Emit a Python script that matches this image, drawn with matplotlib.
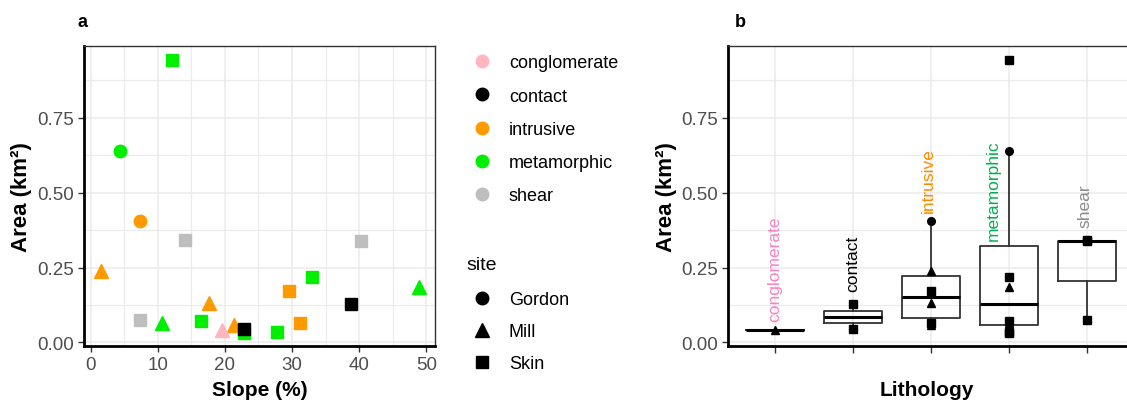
import matplotlib.pyplot as plt
from matplotlib.lines import Line2D
from matplotlib.ticker import MultipleLocator
import numpy as np

plt.rcParams['font.family'] = ['Liberation Sans', 'DejaVu Sans']

# data (one row per landslide)
lithology = ['metamorphic', 'metamorphic', 'intrusive', 'shear', 'shear',
             'intrusive', 'metamorphic', 'metamorphic', 'intrusive', 'contact',
             'intrusive', 'shear', 'metamorphic', 'metamorphic', 'intrusive',
             'intrusive', 'conglomerate', 'metamorphic', 'contact', 'metamorphic']
site = ['Skin', 'Gordon', 'Gordon', 'Skin', 'Skin',
        'Mill', 'Skin', 'Mill', 'Skin', 'Skin',
        'Mill', 'Skin', 'Mill', 'Skin', 'Skin',
        'Mill', 'Mill', 'Skin', 'Skin', 'Skin']
slope = [12.1, 4.4, 7.3, 14.0, 40.2,
         1.5, 32.9, 48.9, 29.6, 38.8,
         17.6, 7.4, 10.6, 16.4, 31.2,
         21.3, 19.6, 22.9, 22.9, 27.7]
area = [0.943, 0.640, 0.407, 0.342, 0.337,
        0.240, 0.217, 0.185, 0.173, 0.127,
        0.130, 0.075, 0.063, 0.070, 0.063,
        0.057, 0.040, 0.032, 0.043, 0.036]

litho_order = ['conglomerate', 'contact', 'intrusive', 'metamorphic', 'shear']
site_order = ['Gordon', 'Mill', 'Skin']

point_colors = {'conglomerate': '#FFB6C1', 'contact': '#000000',
                'intrusive': '#FF9900', 'metamorphic': '#00EE00',
                'shear': '#BEBEBE'}
label_colors = {'conglomerate': '#F783C2', 'contact': '#000000',
                'intrusive': '#FF8C00', 'metamorphic': '#00B050',
                'shear': '#8C8C8C'}
markers = {'Gordon': 'o', 'Mill': '^', 'Skin': 's'}
size_a = {'o': 9, '^': 10.5, 's': 8.5}
size_b = {'o': 5.5, '^': 6, 's': 5.5}


def style_axes(ax):
    ax.set_facecolor('white')
    ax.grid(which='major', color='#EBEBEB', lw=1.1, zorder=0)
    ax.grid(which='minor', axis='y', color='#EBEBEB', lw=0.8, zorder=0)
    ax.set_axisbelow(True)
    for s in ['left', 'bottom']:
        ax.spines[s].set_linewidth(2)
        ax.spines[s].set_color('black')
    for s in ['top', 'right']:
        ax.spines[s].set_linewidth(1)
        ax.spines[s].set_color('#333333')
    ax.tick_params(which='major', length=4, width=1, color='#333333',
                   labelcolor='#4D4D4D', labelsize=13.5)
    ax.tick_params(which='minor', length=0)
    ax.set_ylim(-0.012, 0.99)
    ax.yaxis.set_major_locator(MultipleLocator(0.25))
    ax.yaxis.set_minor_locator(MultipleLocator(0.125))
    ax.set_yticks([0, 0.25, 0.5, 0.75])
    ax.set_yticklabels(['0.00', '0.25', '0.50', '0.75'])


fig = plt.figure(figsize=(11.27, 4.02), dpi=100)

# ---- panel a: scatter
ax1 = fig.add_axes([0.0745, 0.137, 0.3115, 0.746])
style_axes(ax1)
ax1.set_xlim(-1.0, 51.3)
ax1.xaxis.set_major_locator(MultipleLocator(10))
ax1.xaxis.set_minor_locator(MultipleLocator(5))
ax1.grid(which='minor', axis='x', color='#EBEBEB', lw=0.8, zorder=0)
for x, y, l, s in zip(slope, area, lithology, site):
    m = markers[s]
    ax1.plot(x, y, marker=m, ms=size_a[m], color=point_colors[l],
             mec=point_colors[l], ls='none', zorder=3)
ax1.set_xlabel('Slope (%)', fontsize=15, fontweight='bold', va='top')
ax1.xaxis.set_label_coords(0.5, -0.112)
ax1.set_ylabel('Area (km²)', fontsize=16, fontweight='bold')
ax1.yaxis.set_label_coords(-0.148, 0.5)
fig.text(0.069, 0.945, 'a', fontsize=13, fontweight='bold', va='center')

# legends
lit_handles = [Line2D([], [], marker='o', ls='none', ms=9,
                      color=point_colors[l]) for l in litho_order]
leg1 = fig.legend(lit_handles, litho_order, loc='upper left',
                  bbox_to_anchor=(0.414, 0.862), frameon=False, fontsize=13,
                  handlelength=1.67, handletextpad=0.67, labelspacing=0.9,
                  borderpad=0, borderaxespad=0)
site_handles = [Line2D([], [], marker=markers[s], ls='none',
                       ms={'o': 9, '^': 10, 's': 8.5}[markers[s]], color='black')
                for s in site_order]
leg2 = fig.legend(site_handles, site_order, loc='upper left',
                  bbox_to_anchor=(0.414, 0.36), frameon=False, fontsize=13,
                  title='site', title_fontsize=14, alignment='left',
                  handlelength=1.67, handletextpad=0.67, labelspacing=0.82,
                  borderpad=0, borderaxespad=0)
leg2._legend_box.sep = 13

# ---- panel b: boxplots by lithology
ax2 = fig.add_axes([0.646, 0.137, 0.36, 0.746])
style_axes(ax2)
pos = np.arange(1, len(litho_order) + 1)
groups = [[a for a, l in zip(area, lithology) if l == name] for name in litho_order]
ax2.boxplot(groups, positions=pos, widths=0.75, whis=1.5, showfliers=False,
            showcaps=False,
            boxprops=dict(color='#333333', lw=1.3),
            whiskerprops=dict(color='#333333', lw=1.3),
            medianprops=dict(color='black', lw=2.2), zorder=2)
for y, l, s in zip(area, lithology, site):
    m = markers[s]
    ax2.plot(litho_order.index(l) + 1, y, marker=m, ms=size_b[m],
             color='black', ls='none', zorder=3)
ax2.set_xlim(0.4, 5.6)
ax2.set_xticks(pos)
ax2.set_xticklabels([''] * len(pos))
ax2.tick_params(axis='x', length=5)

# lithology names written above each box
label_x = [0.0, 0.0, -0.03, -0.2, -0.03]
label_y = [0.07, 0.17, 0.437, 0.343, 0.387]
for p, name, dx, ly in zip(pos, litho_order, label_x, label_y):
    ax2.text(p + dx, ly, name, rotation=90, ha='center', va='bottom',
             fontsize=12.5, color=label_colors[name])

ax2.set_xlabel('Lithology', fontsize=15, fontweight='bold', va='top')
ax2.xaxis.set_label_coords(0.49, -0.112)
ax2.set_ylabel('Area (km²)', fontsize=16, fontweight='bold')
ax2.yaxis.set_label_coords(-0.125, 0.5)
fig.text(0.652, 0.945, 'b', fontsize=13, fontweight='bold', va='center')

fig.savefig('out.png', dpi=100)
